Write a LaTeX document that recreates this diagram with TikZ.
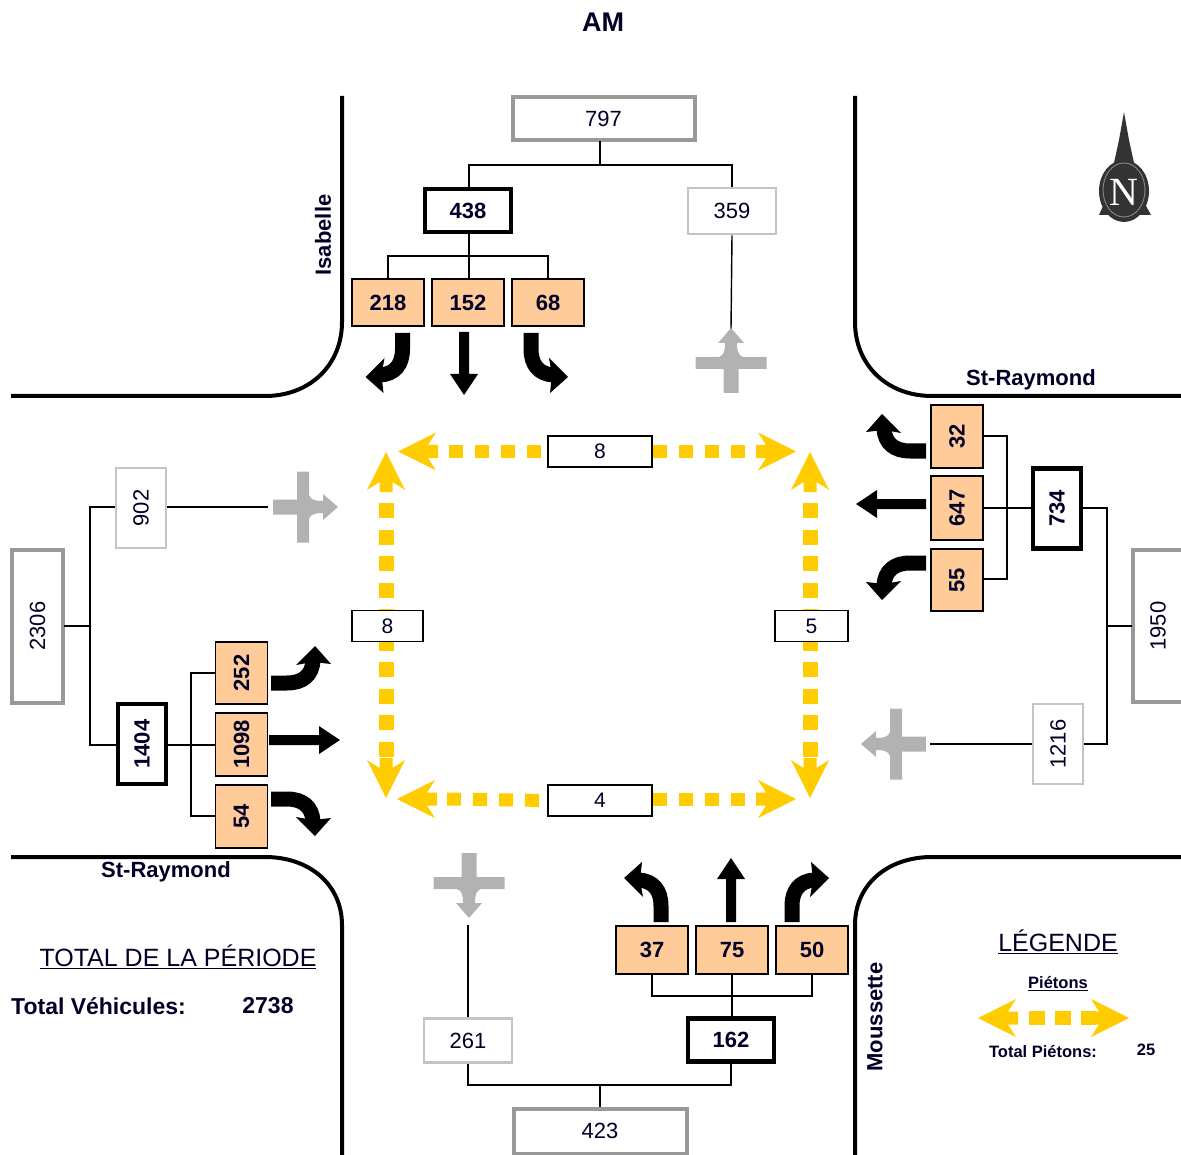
\documentclass[tikz,border=0pt]{standalone}
\usepackage{fontspec}
\setmainfont{Liberation Sans}
\newfontfamily\serifN{Liberation Serif}
\definecolor{peach}{HTML}{FFCC99}
\definecolor{pedy}{HTML}{FFCC00}
\definecolor{grayarrow}{HTML}{B2B2B2}
\definecolor{midgray}{HTML}{999999}
\definecolor{lightgray2}{HTML}{C4C4C4}
\definecolor{compass}{HTML}{333333}
\newcommand{\fpx}[1]{\fontsize{#1}{#1}\selectfont}
\tikzset{
  x=1pt,y=-1pt,
  road/.style={line width=4pt,black},
  wire/.style={line width=1.4pt,black},
  numbox/.style={draw,inner sep=0pt,align=center,text=black!85!blue,font=\fpx{22}},
  graybox/.style={numbox,draw=midgray,line width=4pt},
  lightbox/.style={numbox,draw=lightgray2,line width=2.6pt},
  blackbox/.style={numbox,draw=black,line width=4.5pt,font=\fpx{22}\bfseries},
  movebox/.style={numbox,draw=black,line width=1.6pt,fill=peach,font=\fpx{22}\bfseries},
  pedbox/.style={numbox,draw=black,line width=1.5pt,fill=white,font=\fpx{21}},
  roadname/.style={font=\fpx{22}\bfseries,text=black!85!blue,inner sep=0pt},
  pedH/.style={pedy,line width=13pt,dash pattern=on 14pt off 12pt},
  pedV/.style={pedy,line width=15pt,dash pattern=on 15pt off 11.5pt},
  pics/turnarrow/.style={code={
    \draw[line width=15pt,black] (0,0) -- (0,16) .. controls (0,32) and (-8,41) .. (-22,42);
    \fill[black] (-37,44) -- (-18,25) -- (-21,42) -- (-19,60) -- cycle;
  }},
  pics/straightarrow/.style={code={
    \fill[black] (-5,0) -- (-5,#1-21) -- (-14,#1-21) -- (0,#1) -- (14,#1-21) -- (5,#1-21) -- (5,0) -- cycle;
  }},
  pics/graycross/.style={code={
    \fill[grayarrow] (-7.5,36) -- (-7.5,12) -- (-35.5,12) -- (-35.5,0) -- (-12,0)
       .. controls (-7,-2) and (-6,-6) .. (-6,-14) -- (-13,-14) -- (0,-29) -- (13,-14) -- (6,-14)
       .. controls (6,-6) and (7,-2) .. (12,0) -- (35.5,0) -- (35.5,12) -- (7.5,12) -- (7.5,36) -- cycle;
  }},
  pics/pedhead/.style={code={
    \fill[pedy] (0,0) -- (38,-19) -- (30,-6.5) -- (40,-6.5) -- (40,6.5) -- (30,6.5) -- (38,19) -- cycle;
  }},
}
\begin{document}
\begin{tikzpicture}
\useasboundingbox (0,0) rectangle (1181,1155);
% roads
\draw[road] (342,96) -- (342,322) .. controls (342,365) and (310,396) .. (265,396) -- (11,396);
\draw[road] (855,96) -- (855,322) .. controls (855,365) and (887,396) .. (932,396) -- (1181,396);
\draw[road] (11,857) -- (265,857) .. controls (310,857) and (342,885) .. (342,925) -- (342,1155);
\draw[road] (855,1155) -- (855,925) .. controls (855,885) and (887,857) .. (932,857) -- (1181,857);
% texts
\node[font=\fpx{27}\bfseries,text=black!85!blue] (am) at (603,22) {AM};
\node[roadname,rotate=90] (isabelle) at (323,235) {Isabelle};
\node[roadname] (stre) at (1031,380) {St-Raymond};
\node[roadname] (strw) at (166,872) {St-Raymond};
\node[roadname,rotate=90] (mouss) at (875,1017) {Moussette};
\node[font=\fpx{25},text=black!85!blue,inner sep=0pt] (total) at (178,957) {\underline{TOTAL DE LA PÉRIODE}};
\node[font=\fpx{23}\bfseries,text=black!85!blue,inner sep=0pt,anchor=west] (tv) at (11,1006) {Total Véhicules:};
\node[font=\fpx{23}\bfseries,text=black!85!blue,inner sep=0pt] (tvn) at (268,1006) {2738};
\node[font=\fpx{25},text=black!85!blue,inner sep=0pt] (leg) at (1058,942) {\underline{LÉGENDE}};
\node[font=\fpx{16.5}\bfseries,text=black!85!blue,inner sep=0pt] (piet) at (1058,984) {\underline{Piétons}};
\node[font=\fpx{16.5}\bfseries,text=black!85!blue,inner sep=0pt] (tp) at (1043,1052) {Total Piétons:};
\node[font=\fpx{16.5}\bfseries,text=black!85!blue,inner sep=0pt] (tpn) at (1146,1050) {25};
% north boxes
\node[graybox,minimum width=182pt,minimum height=43pt] (n797) at (603.5,118.5) {797};
\node[blackbox,minimum width=86pt,minimum height=43pt] (n438) at (468,210.5) {438};
\node[lightbox,minimum width=88pt,minimum height=46pt] (n359) at (732,211) {359};
\node[movebox,minimum width=72pt,minimum height=47pt] (n218) at (388,302.5) {218};
\node[movebox,minimum width=72pt,minimum height=47pt] (n152) at (468,302.5) {152};
\node[movebox,minimum width=72pt,minimum height=47pt] (n68) at (548,302.5) {68};
\coordinate (nj1) at (600,165);
\coordinate (nj2) at (469,256);
\draw[wire] (600,141) -- (nj1);
\draw[wire] (n438.north -| 469,0) |- (nj1) -| (n359.north);
\draw[wire] (n438.south -| nj2) -- (n152.north -| nj2);
\draw[wire] (n218.north) |- (nj2) -| (n68.north);
\coordinate (ga-n) at (731,357);
\draw[wire] (n359.south) -- (731,329);
\pic at (ga-n) {graycross};
\pic at (402.5,333) {turnarrow};
\pic at (464,332) {straightarrow=63};
\pic[xscale=-1] at (531,333) {turnarrow};
% east boxes
\node[movebox,rotate=90,minimum width=63pt,minimum height=52pt] (e32) at (957,436.5) {32};
\node[movebox,rotate=90,minimum width=64pt,minimum height=52pt] (e647) at (957,508) {647};
\node[movebox,rotate=90,minimum width=62pt,minimum height=52pt] (e55) at (957,580) {55};
\node[blackbox,rotate=90,minimum width=80pt,minimum height=48pt] (e734) at (1057,508.5) {734};
\node[graybox,rotate=90,minimum width=152pt,minimum height=50pt] (e1950) at (1158,626) {1950};
\node[lightbox,rotate=90,minimum width=80pt,minimum height=50pt] (e1216) at (1058,744) {1216};
\coordinate (ej1) at (1007,508);
\coordinate (ej2) at (1107,626);
\draw[wire] (983,436) -| (ej1);
\draw[wire] (983,579) -| (ej1);
\draw[wire] (983,508) -- (1031,508);
\draw[wire] (1083,508) -| (ej2);
\draw[wire] (1084,744) -| (ej2);
\draw[wire] (ej2) -- (1132,626);
\draw[wire] (1032,744) -- (930,744);
\pic[rotate=90] at (890,744) {graycross};
\pic[rotate=-90] at (926,451) {turnarrow};
\pic[rotate=-90] at (926,504) {straightarrow=70};
\pic[rotate=-90,xscale=-1] at (926,563) {turnarrow};
% west boxes
\node[lightbox,rotate=90,minimum width=80pt,minimum height=50pt] (w902) at (141,508) {902};
\node[graybox,rotate=90,minimum width=153pt,minimum height=51pt] (w2306) at (37.5,626) {2306};
\node[blackbox,rotate=90,minimum width=80pt,minimum height=48pt] (w1404) at (142,744) {1404};
\node[movebox,rotate=90,minimum width=62pt,minimum height=52pt] (w252) at (241.5,673) {252};
\node[movebox,rotate=90,minimum width=63pt,minimum height=52pt] (w1098) at (241.5,744.5) {1098};
\node[movebox,rotate=90,minimum width=63pt,minimum height=52pt] (w54) at (241.5,816.5) {54};
\coordinate (wj1) at (90,626);
\coordinate (wj2) at (191,744);
\draw[wire] (64,626) -- (wj1);
\draw[wire] (115,507) -| (wj1);
\draw[wire] (116,745) -| (wj1);
\draw[wire] (168,745) -- (216,745);
\draw[wire] (216,673) -| (wj2);
\draw[wire] (216,816) -| (wj2);
\draw[wire] (167,507) -- (268,507);
\pic[rotate=-90] at (309,507) {graycross};
\pic[rotate=90,xscale=-1] at (271,683) {turnarrow};
\pic[rotate=90] at (269,740) {straightarrow=71};
\pic[rotate=90] at (271,799) {turnarrow};
% south boxes
\node[movebox,minimum width=72pt,minimum height=48pt] (s37) at (652,950) {37};
\node[movebox,minimum width=72pt,minimum height=48pt] (s75) at (732,950) {75};
\node[movebox,minimum width=72pt,minimum height=48pt] (s50) at (812,950) {50};
\node[blackbox,minimum width=86pt,minimum height=43pt] (s162) at (731,1040) {162};
\node[lightbox,minimum width=88pt,minimum height=44pt] (s261) at (468,1040.5) {261};
\node[graybox,minimum width=173pt,minimum height=45pt] (s423) at (600,1131) {423};
\coordinate (sj1) at (732,996);
\coordinate (sj2) at (600,1085);
\draw[wire] (s37.south) |- (sj1) -| (s50.south);
\draw[wire] (s75.south -| sj1) -- (sj1) -- (s162.north -| sj1);
\draw[wire] (s261.south) |- (sj2);
\draw[wire] (s162.south) |- (sj2);
\draw[wire] (sj2) -- (600,1107);
\draw[wire] (s261.north) -- (468,925);
\pic[rotate=180] at (469,889) {graycross};
\pic[rotate=180,xscale=-1] at (661,922) {turnarrow};
\pic[rotate=180] at (731,922) {straightarrow=64};
\pic[rotate=180] at (792,922) {turnarrow};
% pedestrians
\node[pedbox,minimum width=104pt,minimum height=31pt] (pn) at (600,451.5) {8};
\node[pedbox,minimum width=104pt,minimum height=31pt] (ps) at (600,800.5) {4};
\coordinate (pnl) at (449,451.5);
\coordinate (pnr) at (653,451.5);
\coordinate (psl) at (447,799);
\coordinate (psr) at (653,799);
\coordinate (pwt) at (386,503);
\coordinate (pwb) at (386,757);
\coordinate (pet) at (810,503);
\coordinate (peb) at (810,757);
\draw[pedH] (pnl) -- (pn.west);
\draw[pedH] (pnr) -- (752,451.5);
\draw[pedH] (psl) -- (ps.west);
\draw[pedH] (psr) -- (752,799);
\draw[pedV] (pwt) -- (pwb);
\draw[pedV] (pet) -- (peb);
\pic at (398,451.5) {pedhead};
\pic[xscale=-1] at (796,451.5) {pedhead};
\pic at (397,799) {pedhead};
\pic[xscale=-1] at (796,799) {pedhead};
\pic[rotate=-90] at (386,452) {pedhead};
\pic[rotate=90] at (386,798) {pedhead};
\pic[rotate=-90] at (810,452) {pedhead};
\pic[rotate=90] at (810,798) {pedhead};
\node[pedbox,minimum width=71pt,minimum height=31pt] (pw) at (387.5,626) {8};
\node[pedbox,minimum width=73pt,minimum height=31pt] (pe) at (811.5,626) {5};
% legend arrow
\coordinate (lga) at (1029,1018);
\coordinate (lgb) at (1096,1018);
\draw[pedy,line width=14pt,dash pattern=on 16pt off 10pt] (lga) -- (lgb);
\pic at (978,1018) {pedhead};
\pic[xscale=-1] at (1129,1018) {pedhead};
% compass
\fill[compass] (1124,112) -- (1129,140) -- (1136,172) -- (1112,172) -- (1119,140) -- cycle;
\fill[compass] (1099,215) -- (1108,195) -- (1140,195) -- (1151,215) -- cycle;
\fill[compass] (1124,191) ellipse [x radius=25,y radius=31];
\draw[gray,line width=1pt] (1124,190) ellipse [x radius=21,y radius=27];
\node[text=white,inner sep=0pt,font=\fpx{40}\serifN] (north) at (1124,192) {N};
\end{tikzpicture}
\end{document}
